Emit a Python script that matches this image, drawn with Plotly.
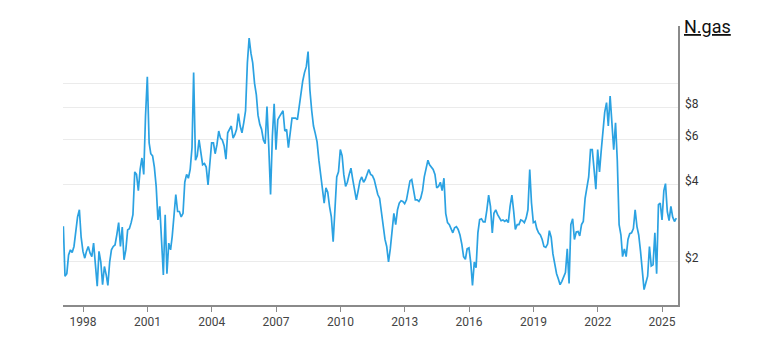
import math
import pandas as pd
import plotly.graph_objects as go

# Monthly natural gas price (USD/MMBtu), month-end, Jan 1997 onwards
prices = [
    # 1997
    2.76, 1.76, 1.80, 2.13, 2.23, 2.18, 2.30, 2.70, 3.00, 3.20, 2.50, 2.20,
    # 1998
    2.07, 2.20, 2.30, 2.17, 2.10, 2.37, 1.99, 1.61, 2.20, 2.00, 1.63, 1.92,
    # 1999
    1.78, 1.62, 2.00, 2.23, 2.30, 2.33, 2.56, 2.85, 2.30, 2.74, 2.04, 2.23,
    # 2000
    2.67, 2.70, 2.85, 3.06, 4.50, 4.40, 3.80, 4.60, 5.10, 4.40, 7.40, 10.60,
    # 2001
    5.84, 5.30, 5.20, 4.70, 3.95, 2.92, 3.30, 2.30, 1.78, 3.06, 1.80, 2.37,
    # 2002
    2.23, 2.52, 3.00, 3.67, 3.15, 3.15, 3.00, 3.10, 4.10, 4.40, 4.25, 4.60,
    # 2003
    5.60, 11.00, 5.00, 5.20, 6.00, 5.30, 4.80, 4.85, 4.70, 4.00, 5.00, 5.84,
    # 2004
    5.84, 5.30, 5.75, 6.50, 6.10, 6.00, 5.70, 5.05, 6.40, 6.60, 6.80, 6.10,
    # 2005
    6.30, 6.60, 7.60, 6.80, 6.40, 7.00, 7.80, 12.00, 15.00, 13.10, 12.00, 10.00,
    # 2006
    9.00, 7.50, 6.90, 6.60, 6.00, 5.80, 8.10, 5.60, 3.67, 6.20, 8.30, 5.50,
    # 2007
    7.20, 7.40, 7.60, 7.80, 6.50, 6.60, 5.60, 6.60, 7.30, 7.30, 7.30, 7.20,
    # 2008
    8.10, 9.30, 10.20, 11.00, 11.60, 13.30, 9.40, 7.80, 6.80, 6.35, 5.90, 5.00,
    # 2009
    4.40, 3.90, 3.40, 3.90, 3.75, 3.30, 3.00, 2.40, 3.40, 4.30, 4.50, 5.50,
    # 2010
    5.20, 4.40, 3.95, 4.10, 4.40, 4.65, 4.20, 3.80, 3.50, 3.80, 4.15, 4.30,
    # 2011
    4.10, 4.20, 4.45, 4.60, 4.40, 4.35, 4.20, 3.90, 3.67, 3.55, 3.10, 2.70,
    # 2012
    2.45, 2.30, 2.00, 2.25, 2.65, 3.10, 2.80, 3.20, 3.40, 3.47, 3.45, 3.38,
    # 2013
    3.50, 3.80, 4.15, 4.20, 3.75, 3.50, 3.50, 3.45, 3.55, 3.80, 4.30, 4.60,
    # 2014
    5.00, 4.80, 4.70, 4.60, 4.40, 3.90, 3.95, 4.10, 3.80, 4.25, 3.10, 2.85,
    # 2015
    2.80, 2.70, 2.60, 2.72, 2.75, 2.68, 2.55, 2.35, 2.10, 2.05, 2.25, 2.27,
    # 2016
    1.98, 1.62, 2.00, 1.90, 2.60, 2.93, 2.95, 2.87, 2.87, 3.20, 3.65, 3.30,
    # 2017
    2.60, 3.10, 3.20, 3.07, 2.97, 2.90, 2.92, 2.88, 2.92, 2.85, 3.30, 3.65,
    # 2018
    3.15, 2.68, 2.80, 2.80, 2.92, 2.90, 2.85, 2.97, 3.20, 4.60, 3.40, 2.85,
    # 2019
    2.88, 2.70, 2.60, 2.55, 2.45, 2.30, 2.28, 2.35, 2.65, 2.50, 2.15, 1.95,
    # 2020
    1.80, 1.72, 1.63, 1.68, 1.75, 1.82, 2.25, 1.65, 2.80, 2.95, 2.45, 2.62,
    # 2021
    2.63, 2.53, 2.80, 2.88, 3.55, 3.90, 4.30, 5.50, 5.50, 4.60, 3.85, 5.50,
    # 2022
    4.50, 5.40, 6.60, 7.70, 8.40, 6.80, 8.90, 7.20, 5.50, 7.00, 5.00, 2.80,
    # 2023
    2.55, 2.10, 2.25, 2.10, 2.45, 2.58, 2.60, 2.70, 3.20, 2.75, 2.55, 2.20,
    # 2024
    1.85, 1.56, 1.66, 1.76, 2.30, 1.93, 1.95, 2.60, 1.80, 3.35, 3.40, 2.92,
    # 2025
    3.80, 4.05, 3.15, 2.90, 3.30, 3.00, 2.88, 2.97,
]

dates = pd.date_range("1997-01-31", periods=len(prices), freq="ME")

year_ticks = ["1998", "2001", "2004", "2007", "2010", "2013", "2016", "2019", "2022", "2025"]
price_ticks = [2, 4, 6, 8, 10]
price_labels = ["$2", "$4", "$6", "$8", ""]
title_text = "N.gas"

line_color = "#2ba2e2"
axis_color = "#8a8a8a"
grid_color = "#ebebeb"
text_color = "#444444"

fig = go.Figure()
fig.add_trace(go.Scatter(
    x=dates, y=prices, mode="lines",
    line=dict(color=line_color, width=1.7),
    hoverinfo="skip", showlegend=False,
))

# the page body adds an 8px offset; compensate in size/margins
fig.update_layout(
    width=760, height=349,
    margin=dict(l=55, r=90, t=18, b=52),
    paper_bgcolor="white", plot_bgcolor="white",
    font=dict(family="Roboto, sans-serif", size=12, color=text_color),
    showlegend=False,
)

fig.update_xaxes(
    type="date",
    range=["1997-01-25", "2025-09-29"],
    tickvals=[f"{y}-01-01" for y in year_ticks],
    ticktext=year_ticks,
    showgrid=False, zeroline=False,
    showline=True, linecolor=axis_color, linewidth=1.5,
    ticks="outside", ticklen=5, tickcolor=axis_color, tickwidth=1.2,
    tickfont=dict(size=12, color=text_color),
)

fig.update_yaxes(
    type="log",
    range=[math.log10(1.358), math.log10(16.73)],
    side="right",
    tickvals=price_ticks,
    showticklabels=False,
    showgrid=True, gridcolor=grid_color, gridwidth=1,
    zeroline=False,
    showline=True, linecolor=axis_color, linewidth=1.5,
    ticks="",
)

for v, lab in zip(price_ticks, price_labels):
    if not lab:
        continue
    fig.add_annotation(
        x=1.0, xref="paper", xanchor="left", xshift=5,
        y=math.log10(v), yref="y", yanchor="middle", yshift=4,
        text=lab, showarrow=False,
        font=dict(size=12, color="#333333"),
    )

fig.add_annotation(
    x=1.0, xref="paper", xanchor="left", xshift=4,
    y=1.0, yref="paper", yanchor="middle", yshift=0,
    text=f"<u>{title_text}</u>", showarrow=False,
    font=dict(size=18, color="#111111", family="Roboto, sans-serif"),
)

fig.write_html("out.html")
